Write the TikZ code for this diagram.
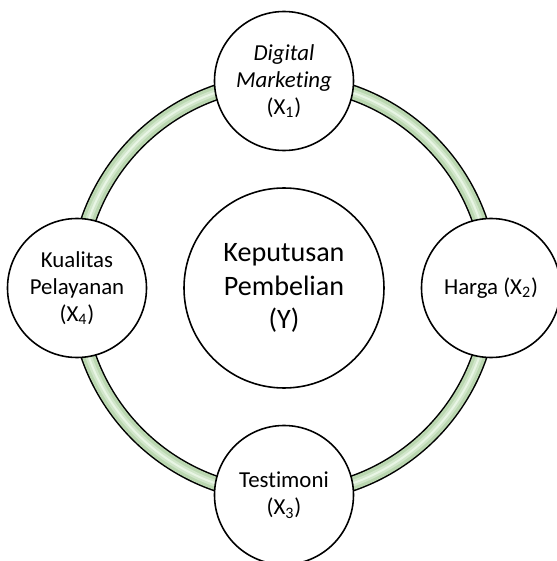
\documentclass[tikz,border=0pt]{standalone}
\usepackage{fontspec}
\setmainfont{Carlito}[Ligatures=NoCommon]
\definecolor{ringgreen}{RGB}{186,215,176}
\definecolor{ringlight}{RGB}{232,245,228}
\begin{document}
\begin{tikzpicture}[line join=round, line cap=round,
    var/.style={circle, draw, fill=white, line width=0.9pt, minimum size=2.78cm, inner sep=0pt, align=center, font=\fontsize{13}{15.5}\selectfont},
    dep/.style={circle, draw, fill=white, line width=0.9pt, minimum size=4cm, inner sep=0pt, align=center, font=\fontsize{16}{19}\selectfont}]
    \def\r{4.14}
    \useasboundingbox (-5.68,-5.46) rectangle (5.46,5.76);
    \draw[line width=0.32cm] (0,0) circle (\r);
    \draw[ringgreen, line width=0.26cm] (0,0) circle (\r);
    \draw[ringgreen!50!ringlight, line width=0.13cm] (0,0) circle (\r);
    \draw[ringlight, line width=0.04cm] (0,0) circle (\r);
    \node[dep] (y) at (0,0) {Keputusan\\Pembelian\\(Y)};
    \node[var] (x1) at (90:\r) {\textit{Digital}\\\textit{Marketing}\\(X\textsubscript{1})};
    \node[var] (x2) at (0:\r) {Harga (X\textsubscript{2})};
    \node[var] (x3) at (270:\r) {Testimoni\\(X\textsubscript{3})};
    \node[var] (x4) at (180:\r) {Kualitas\\Pelayanan\\(X\textsubscript{4})};
\end{tikzpicture}
\end{document}
